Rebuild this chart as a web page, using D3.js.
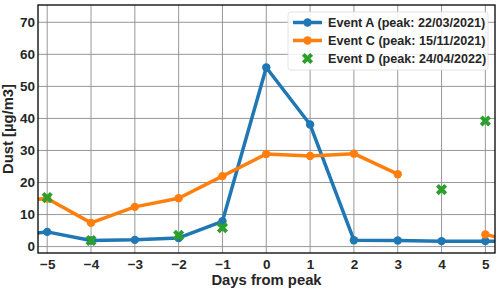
<!DOCTYPE html>
<html>
<head>
<meta charset="utf-8">
<script src="https://cdn.jsdelivr.net/npm/d3@7"></script>
<style>
  body { margin: 0; background: #fff; }
  text { font-family: "Liberation Sans", Arial, sans-serif; font-weight: bold; fill: #262626; }
</style>
</head>
<body>
<svg id="chart" width="500" height="289"></svg>
<script>
// days relative to peak (points at -6 and 6 fall outside the view and get clipped)
var days = [-6, -5, -4, -3, -2, -1, 0, 1, 2, 3, 4, 5, 6];
var eventA = [3.0, 4.6, 1.9, 2.1, 2.7, 7.9, 55.9, 38.1, 2.0, 1.9, 1.7, 1.7, 1.7];
var eventC = [14.0, 15.0, 7.4, 12.4, 15.1, 22.0, 28.9, 28.3, 29.0, 22.6, null, 3.8, 0.4];
var eventD = [null, 15.3, 1.9, null, 3.5, 5.9, null, null, null, null, 17.8, 39.2, null];

var xTicks = [-5, -4, -3, -2, -1, 0, 1, 2, 3, 4, 5];
var yTicks = [0, 10, 20, 30, 40, 50, 60, 70];

var seriesNames = ["Event A (peak: 22/03/2021)", "Event C (peak: 15/11/2021)", "Event D (peak: 24/04/2022)"];
var colors = ["#1f77b4", "#ff7f0e", "#2ca02c"];

var svg = d3.select("#chart"),
    margin = {top: 5, right: 5, bottom: 36, left: 38},
    width = 500 - margin.left - margin.right,
    height = 289 - margin.top - margin.bottom;

var x = d3.scaleLinear().domain([-5.21, 5.22]).range([0, width]);
var y = d3.scaleLinear().domain([-2, 75.4]).range([height, 0]);

var g = svg.append("g")
    .attr("transform", "translate(" + margin.left + "," + margin.top + ")");

g.append("clipPath").attr("id", "clip")
  .append("rect").attr("width", width).attr("height", height);

// grid
g.append("g").selectAll("line").data(xTicks).enter().append("line")
    .attr("x1", d => x(d)).attr("x2", d => x(d))
    .attr("y1", 0).attr("y2", height)
    .attr("stroke", "#8c8c8c").attr("stroke-width", 0.9);
g.append("g").selectAll("line").data(yTicks).enter().append("line")
    .attr("y1", d => y(d)).attr("y2", d => y(d))
    .attr("x1", 0).attr("x2", width)
    .attr("stroke", "#8c8c8c").attr("stroke-width", 0.9);

// axes (labels only)
var xAxis = g.append("g")
    .attr("transform", "translate(0," + height + ")")
    .call(d3.axisBottom(x).tickValues(xTicks).tickSize(0).tickPadding(6).tickFormat(d => d < 0 ? "\u2212" + Math.abs(d) : d));
var yAxis = g.append("g")
    .call(d3.axisLeft(y).tickValues(yTicks).tickSize(0).tickPadding(3));
[xAxis, yAxis].forEach(function(a) {
  a.select(".domain").remove();
  a.selectAll("text").attr("font-size", "13.5px").attr("font-family", null);
});

var plot = g.append("g").attr("clip-path", "url(#clip)");

var line = d3.line()
    .defined(d => d.v != null)
    .x(d => x(d.day)).y(d => y(d.v));

function pts(vals) {
  return days.map(function(d, i) { return {day: d, v: vals[i]}; });
}

[eventA, eventC].forEach(function(vals, i) {
  var data = pts(vals);
  plot.append("path").datum(data)
      .attr("fill", "none").attr("stroke", colors[i])
      .attr("stroke-width", 3.5).attr("stroke-linejoin", "round")
      .attr("d", line);
  plot.selectAll(".m" + i).data(data.filter(d => d.v != null)).enter()
    .append("circle")
      .attr("cx", d => x(d.day)).attr("cy", d => y(d.v))
      .attr("r", 4.2).attr("fill", colors[i]);
});

var xSym = d3.symbol().type(d3.symbolCross).size(78);
plot.selectAll(".xd").data(pts(eventD).filter(d => d.v != null)).enter()
  .append("path")
    .attr("d", xSym)
    .attr("transform", d => "translate(" + x(d.day) + "," + y(d.v) + ") rotate(45)")
    .attr("fill", colors[2]);

// frame
g.append("rect").attr("width", width).attr("height", height)
    .attr("fill", "none").attr("stroke", "#000").attr("stroke-width", 1.3);

// axis titles
g.append("text")
    .attr("x", width / 2).attr("y", height + 32)
    .attr("text-anchor", "middle").attr("font-size", "14.8px")
    .text("Days from peak");
g.append("text")
    .attr("transform", "translate(-25," + (height / 2) + ") rotate(-90)")
    .attr("text-anchor", "middle").attr("font-size", "14.8px")
    .text("Dust [\u00b5g/m3]");

// legend
var lg = svg.append("g").attr("transform", "translate(288,12)");
lg.append("rect").attr("width", 200).attr("height", 58).attr("rx", 3)
    .attr("fill", "#fff").attr("fill-opacity", 0.85)
    .attr("stroke", "#dcdcdc").attr("stroke-width", 0.8);
seriesNames.forEach(function(name, i) {
  var row = lg.append("g").attr("transform", "translate(0," + (10.5 + i * 18) + ")");
  if (i < 2) {
    row.append("line").attr("x1", 5).attr("x2", 34).attr("y1", 0).attr("y2", 0)
        .attr("stroke", colors[i]).attr("stroke-width", 3.5);
    row.append("circle").attr("cx", 19.5).attr("cy", 0).attr("r", 4.2).attr("fill", colors[i]);
  } else {
    row.append("path").attr("d", xSym)
        .attr("transform", "translate(19.5,0) rotate(45)").attr("fill", colors[i]);
  }
  row.append("text").attr("x", 40).attr("y", 4.5).attr("font-size", "12.6px").text(name);
});
</script>
</body>
</html>
